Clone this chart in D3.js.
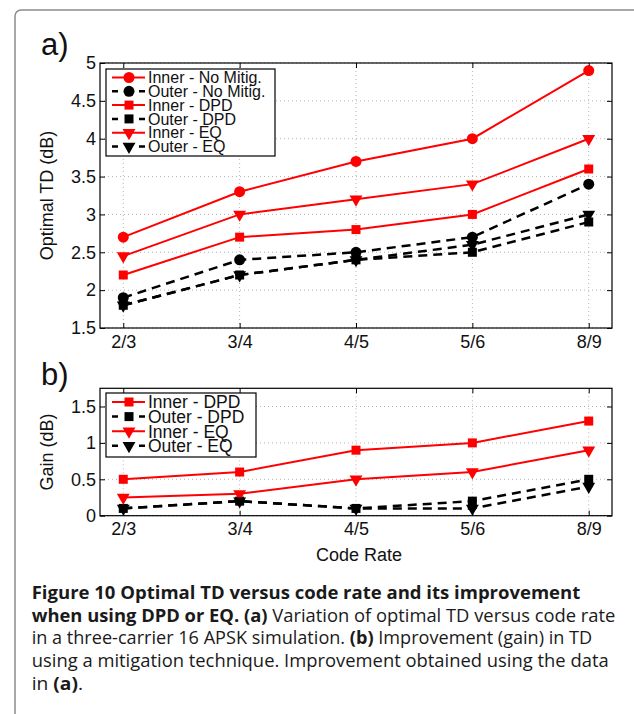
<!DOCTYPE html>
<html>
<head>
<meta charset="utf-8">
<script src="https://cdn.jsdelivr.net/npm/d3@7"></script>
<style>
body { margin: 0; background: #fff; }
svg text { font-family: "Liberation Sans", Arial, Helvetica, sans-serif; fill: #111; }
.caption text { font-family: "Open Sans", "Noto Sans", sans-serif; fill: #1a1a1a; }
</style>
</head>
<body>
<script>
//categories on the x axis
var codeRates = ["2/3", "3/4", "4/5", "5/6", "8/9"];

//panel a) optimal TD (dB)
var innerNoMitig = [2.7, 3.3, 3.7, 4.0, 4.9];
var outerNoMitig = [1.9, 2.4, 2.5, 2.7, 3.4];
var innerDPD = [2.2, 2.7, 2.8, 3.0, 3.6];
var outerDPD = [1.8, 2.2, 2.4, 2.5, 2.9];
var innerEQ = [2.45, 3.0, 3.2, 3.4, 4.0];
var outerEQ = [1.8, 2.2, 2.4, 2.6, 3.0];

//panel b) gain (dB)
var gainInnerDPD = [0.5, 0.6, 0.9, 1.0, 1.3];
var gainOuterDPD = [0.1, 0.2, 0.1, 0.2, 0.5];
var gainInnerEQ = [0.25, 0.3, 0.5, 0.6, 0.9];
var gainOuterEQ = [0.1, 0.2, 0.1, 0.1, 0.4];

//y tick labels
var tdTicks = [1.5, 2, 2.5, 3, 3.5, 4, 4.5, 5];
var gainTicks = [0, 0.5, 1, 1.5];

(function(){

var width = 634,
    height = 714;

var svg = d3.select("body")
    .append("svg")
    .attr("width", width)
    .attr("height", height);

//grey rounded frame of the figure box
svg.append("rect")
    .attr("x", 15)
    .attr("y", 10)
    .attr("width", 700)
    .attr("height", 800)
    .attr("rx", 6)
    .attr("fill", "none")
    .attr("stroke", "#8c8c8c")
    .attr("stroke-width", 1.5);

//shared x scale
var x = d3.scalePoint()
    .domain(codeRates)
    .range([100, 612])
    .padding(0.2);

//marker styles
var RED = "#ff0000", BLACK = "#000000";
function styleFor(color, marker){
    return {color: color, dashed: color == BLACK, marker: marker};
}

var panelA = {
    top: 63, bottom: 328,
    domain: [1.5, 5],
    ticks: tdTicks,
    label: "Optimal TD (dB)",
    tag: "a)", tagY: 55,
    legend: {x: 106, y: 69, w: 169, h: 87, row0: 77.5, step: 13.8, font: 16},
    series: [
        {name: "Inner - No Mitig.", values: innerNoMitig, style: styleFor(RED, "circle")},
        {name: "Outer - No Mitig.", values: outerNoMitig, style: styleFor(BLACK, "circle")},
        {name: "Inner - DPD", values: innerDPD, style: styleFor(RED, "square")},
        {name: "Outer - DPD", values: outerDPD, style: styleFor(BLACK, "square")},
        {name: "Inner - EQ", values: innerEQ, style: styleFor(RED, "tri")},
        {name: "Outer - EQ", values: outerEQ, style: styleFor(BLACK, "tri")}
    ]
};

var panelB = {
    top: 388.3, bottom: 515.7,
    domain: [0, 1.75],
    ticks: gainTicks,
    label: "Gain (dB)",
    tag: "b)", tagY: 385,
    legend: {x: 106, y: 393, w: 150, h: 64, row0: 402, step: 14.6, font: 17.5},
    series: [
        {name: "Inner - DPD", values: gainInnerDPD, style: styleFor(RED, "square")},
        {name: "Outer - DPD", values: gainOuterDPD, style: styleFor(BLACK, "square")},
        {name: "Inner - EQ", values: gainInnerEQ, style: styleFor(RED, "tri")},
        {name: "Outer - EQ", values: gainOuterEQ, style: styleFor(BLACK, "tri")}
    ]
};

drawPanel(panelA);
drawPanel(panelB);

//x axis title under panel b
svg.append("text")
    .attr("x", 359)
    .attr("y", 560.5)
    .attr("text-anchor", "middle")
    .style("font-size", "18px")
    .text("Code Rate");

drawCaption();

//draw one marker at (cx, cy)
function drawMarker(g, style, cx, cy){
    var sym, rot = 0;
    if (style.marker == "circle"){
        sym = d3.symbol().type(d3.symbolCircle).size(95);
    } else if (style.marker == "square"){
        sym = d3.symbol().type(d3.symbolSquare).size(81);
    } else {
        sym = d3.symbol().type(d3.symbolTriangle).size(72);
        rot = 180;
    }
    g.append("path")
        .attr("d", sym)
        .attr("transform", "translate(" + cx + "," + cy + ") rotate(" + rot + ")")
        .attr("fill", style.color)
        .attr("stroke", "none");
}

function drawPanel(p){
    var y = d3.scaleLinear()
        .domain(p.domain)
        .range([p.bottom, p.top]);

    var g = svg.append("g");

    //dotted grid
    g.selectAll(".vgrid")
        .data(codeRates)
        .enter()
        .append("line")
        .attr("class", "vgrid")
        .attr("x1", function(d){ return x(d); })
        .attr("x2", function(d){ return x(d); })
        .attr("y1", p.top)
        .attr("y2", p.bottom)
        .attr("stroke", "#b4b4b4")
        .attr("stroke-width", 1)
        .attr("stroke-dasharray", "1,3");

    g.selectAll(".hgrid")
        .data(p.ticks)
        .enter()
        .append("line")
        .attr("class", "hgrid")
        .attr("x1", 100)
        .attr("x2", 612)
        .attr("y1", function(d){ return y(d); })
        .attr("y2", function(d){ return y(d); })
        .attr("stroke", "#b4b4b4")
        .attr("stroke-width", 1)
        .attr("stroke-dasharray", "1,3");

    //axes with inward ticks on all four sides
    var bottomAxis = g.append("g")
        .attr("transform", "translate(0," + p.bottom + ")")
        .call(d3.axisBottom(x).tickSize(-5).tickSizeOuter(0).tickPadding(7));
    var leftAxis = g.append("g")
        .attr("transform", "translate(100,0)")
        .call(d3.axisLeft(y).tickValues(p.ticks).tickSize(-5).tickSizeOuter(0).tickPadding(4).tickFormat(d3.format("")));
    var topAxis = g.append("g")
        .attr("transform", "translate(0," + p.top + ")")
        .call(d3.axisTop(x).tickSize(-5).tickSizeOuter(0).tickFormat(""));
    var rightAxis = g.append("g")
        .attr("transform", "translate(612,0)")
        .call(d3.axisRight(y).tickValues(p.ticks).tickSize(-5).tickSizeOuter(0).tickFormat(""));

    [bottomAxis, leftAxis, topAxis, rightAxis].forEach(function(ax){
        ax.select(".domain").remove();
        ax.selectAll("line").attr("stroke", "#000");
        ax.selectAll("text").style("font-size", "18px");
    });

    //axes box
    g.append("rect")
        .attr("x", 100)
        .attr("y", p.top)
        .attr("width", 512)
        .attr("height", p.bottom - p.top)
        .attr("fill", "none")
        .attr("stroke", "#000")
        .attr("stroke-width", 1.2);

    //series lines and markers
    var line = d3.line()
        .x(function(d, i){ return x(codeRates[i]); })
        .y(function(d){ return y(d); });

    p.series.forEach(function(s){
        var sg = g.append("g");
        sg.append("path")
            .datum(s.values)
            .attr("d", line)
            .attr("fill", "none")
            .attr("stroke", s.style.color)
            .attr("stroke-width", s.style.dashed ? 2.5 : 2)
            .attr("stroke-dasharray", s.style.dashed ? "9,6" : null);
        s.values.forEach(function(v, i){
            drawMarker(sg, s.style, x(codeRates[i]), y(v));
        });
    });

    //legend
    var L = p.legend;
    var lg = g.append("g");
    lg.append("rect")
        .attr("x", L.x)
        .attr("y", L.y)
        .attr("width", L.w)
        .attr("height", L.h)
        .attr("fill", "#fff")
        .attr("stroke", "#000")
        .attr("stroke-width", 1.2);

    p.series.forEach(function(s, i){
        var ry = L.row0 + i * L.step;
        lg.append("line")
            .attr("x1", L.x + 6)
            .attr("x2", L.x + 39)
            .attr("y1", ry)
            .attr("y2", ry)
            .attr("stroke", s.style.color)
            .attr("stroke-width", s.style.dashed ? 2.5 : 2)
            .attr("stroke-dasharray", s.style.dashed ? "6,21" : null);
        drawMarker(lg, s.style, L.x + 23, ry);
        lg.append("text")
            .attr("x", L.x + 42)
            .attr("y", ry)
            .attr("dy", "0.36em")
            .style("font-size", L.font + "px")
            .text(s.name);
    });

    //y axis title
    svg.append("text")
        .attr("transform", "translate(53," + ((p.top + p.bottom) / 2) + ") rotate(-90)")
        .attr("text-anchor", "middle")
        .style("font-size", "18px")
        .text(p.label);

    //panel tag
    svg.append("text")
        .attr("x", 41)
        .attr("y", p.tagY)
        .style("font-size", "31px")
        .text(p.tag);
}

//figure caption, each line squeezed to the width seen in the reference
function drawCaption(){
    var lines = [
        {y: 599, right: 580.7, parts: [["Figure 10 Optimal TD versus code rate and its improvement", true]]},
        {y: 621.7, right: 615.7, parts: [["when using DPD or EQ. (a)", true], [" Variation of optimal TD versus code rate", false]]},
        {y: 644.4, right: 592.3, parts: [["in a three-carrier 16 APSK simulation. ", false], ["(b)", true], [" Improvement (gain) in TD", false]]},
        {y: 667.1, right: 609, parts: [["using a mitigation technique. Improvement obtained using the data", false]]},
        {y: 689.8, right: 83, parts: [["in ", false], ["(a)", true], [".", false]]}
    ];
    var left = 31.7;
    var cg = svg.append("g").attr("class", "caption");

    lines.forEach(function(l){
        var t = cg.append("text")
            .attr("x", 0)
            .attr("y", 0)
            .style("font-size", "18px")
            .attr("xml:space", "preserve");
        l.parts.forEach(function(pt){
            t.append("tspan")
                .attr("font-weight", pt[1] ? "bold" : "normal")
                .text(pt[0]);
        });
        var w = t.node().getComputedTextLength();
        var sx = (l.right - left) / w;
        t.attr("transform", "translate(" + left + "," + l.y + ") scale(" + sx + ",1)");
    });
}

})();
</script>
</body>
</html>
